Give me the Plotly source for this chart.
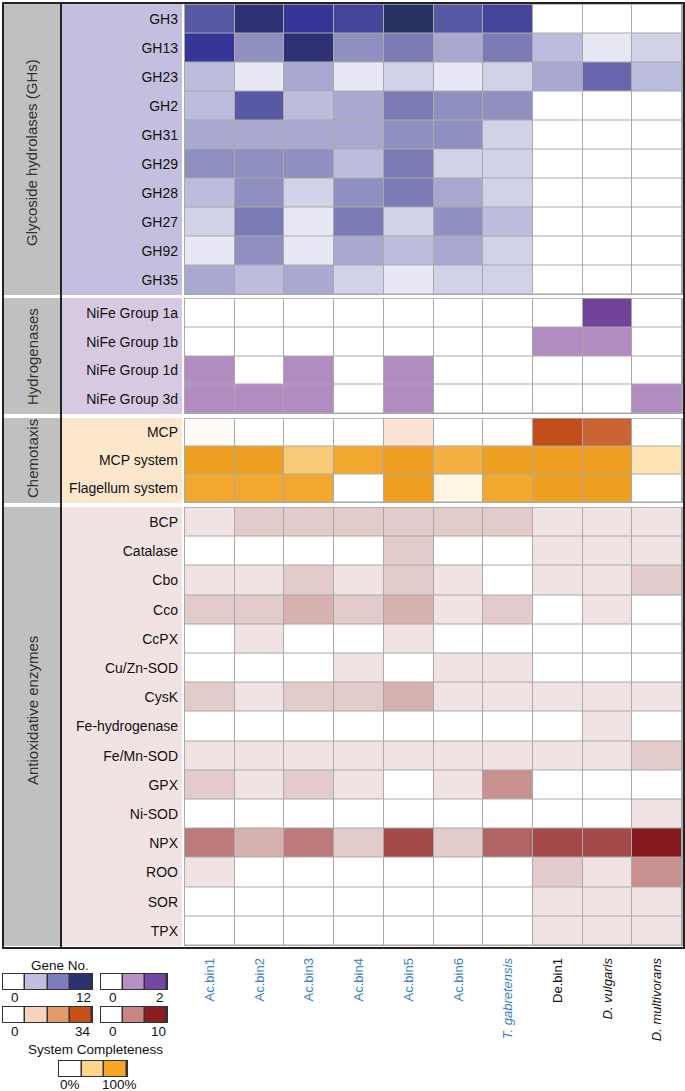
import plotly.graph_objects as go

W, H = 685, 1091
FONT = "Liberation Sans, Arial, sans-serif"

# ---------------- data ----------------
columns = ["Ac.bin1", "Ac.bin2", "Ac.bin3", "Ac.bin4", "Ac.bin5", "Ac.bin6",
           "T. gabretensis", "De.bin1", "D. vulgaris", "D. multivorans"]
column_is_ac = [True, True, True, True, True, True, True, False, False, False]
column_italic = [False, False, False, False, False, False, True, False, True, True]

gh_rows = ["GH3", "GH13", "GH23", "GH2", "GH31", "GH29", "GH28", "GH27", "GH92", "GH35"]
gh_values = [
    [8, 11, 10, 9, 12, 8, 9, 0, 0, 0],
    [10, 5, 11, 5, 6, 4, 6, 3, 1, 2],
    [3, 1, 4, 1, 2, 1, 2, 4, 7, 3],
    [3, 8, 3, 4, 6, 5, 5, 0, 0, 0],
    [4, 4, 4, 4, 5, 5, 2, 0, 0, 0],
    [5, 5, 5, 3, 6, 2, 2, 0, 0, 0],
    [3, 5, 2, 5, 6, 4, 2, 0, 0, 0],
    [2, 6, 1, 6, 2, 5, 3, 0, 0, 0],
    [1, 5, 1, 4, 3, 4, 2, 0, 0, 0],
    [4, 3, 4, 2, 1, 2, 2, 0, 0, 0],
]

hyd_rows = ["NiFe Group 1a", "NiFe Group 1b", "NiFe Group 1d", "NiFe Group 3d"]
hyd_values = [
    [0, 0, 0, 0, 0, 0, 0, 0, 2, 0],
    [0, 0, 0, 0, 0, 0, 0, 1, 1, 0],
    [1, 0, 1, 0, 1, 0, 0, 0, 0, 0],
    [1, 1, 1, 0, 1, 0, 0, 0, 0, 1],
]

mcp_rows = ["MCP"]
mcp_values = [[1, 0, 0, 0, 7, 0, 0, 34, 31, 0]]

system_rows = ["MCP system", "Flagellum system"]
system_values = [
    [100, 100, 60, 93, 100, 85, 100, 100, 100, 33],
    [93, 93, 93, 0, 100, 12, 93, 100, 100, 0],
]

anti_rows = ["BCP", "Catalase", "Cbo", "Cco", "CcPX", "Cu/Zn-SOD", "CysK", "Fe-hydrogenase",
             "Fe/Mn-SOD", "GPX", "Ni-SOD", "NPX", "ROO", "SOR", "TPX"]
anti_values = [
    [1, 2, 2, 2, 2, 2, 2, 1, 1, 1],
    [0, 0, 0, 0, 2, 0, 0, 1, 1, 1],
    [1, 1, 2, 1, 2, 1, 0, 1, 1, 2],
    [2, 2, 3, 2, 3, 1, 2, 0, 1, 0],
    [0, 1, 0, 0, 1, 0, 0, 0, 0, 0],
    [0, 0, 0, 1, 0, 1, 1, 0, 0, 0],
    [2, 1, 2, 2, 3, 1, 1, 1, 1, 1],
    [0, 0, 0, 0, 0, 0, 0, 0, 1, 0],
    [1, 1, 1, 1, 1, 1, 1, 1, 1, 2],
    [2, 1, 2, 1, 0, 1, 4, 0, 0, 0],
    [0, 0, 0, 0, 0, 0, 0, 0, 0, 1],
    [5, 3, 5, 2, 7, 2, 6, 7, 7, 10],
    [1, 0, 0, 0, 0, 0, 0, 2, 1, 4],
    [0, 0, 0, 0, 0, 0, 0, 1, 1, 1],
    [0, 0, 0, 0, 0, 0, 0, 1, 1, 1],
]

group_names = ["Glycoside hydrolases (GHs)", "Hydrogenases", "Chemotaxis", "Antioxidative enzymes"]

legend_gh_ticks = ["0", "12"]
legend_hyd_ticks = ["0", "2"]
legend_mcp_ticks = ["0", "34"]
legend_anti_ticks = ["0", "10"]
legend_sys_ticks = ["0%", "100%"]

# ---------------- colour scales ----------------
blue_levels = ["#ffffff", "#e8e8f4", "#d1d1e7", "#bcbcdc", "#a8a8d0", "#9090c0", "#7b7bb5",
               "#6866ac", "#5858a5", "#47459b", "#383598", "#2e3274", "#283060"]
blue_scale = [[i / 12, c] for i, c in enumerate(blue_levels)]
purple_scale = [[0, "#ffffff"], [0.5, "#b18cc0"], [1, "#704399"]]
orange_scale = [[0, "#ffffff"], [0.33, "#f8d2bc"], [0.67, "#e4996d"], [1, "#c24e1c"]]
amber_scale = [[0, "#ffffff"], [0.5, "#fdd68c"], [1, "#f0a020"]]
red_scale = [[0, "#ffffff"], [0.1, "#f1e3e3"], [0.2, "#e3cacb"], [0.3, "#d7b0b0"],
             [0.4, "#c99090"], [0.5, "#bc7a7a"], [0.6, "#b06464"], [0.7, "#a44a4a"],
             [1, "#841a1e"]]


def px(p):
    return p / W


def py(p):
    return 1 - p / H


blocks = [(4, 295), (298, 414), (418, 503), (507, 946)]
block_bg = ["#c4bfdf", "#d8c9e3", "#fde7cc", "#f2e3e3"]
HX0, HX1 = 185, 682

GRID = "#a9a9a9"

fig = go.Figure()

# ---------------- main heatmaps ----------------
common = dict(x=columns, xgap=1, ygap=1, showscale=False, hoverinfo="x+y+z")
fig.add_trace(go.Heatmap(z=gh_values, y=gh_rows, colorscale=blue_scale, zmin=0, zmax=12,
                         xaxis="x", yaxis="y", **common))
fig.add_trace(go.Heatmap(z=hyd_values, y=hyd_rows, colorscale=purple_scale, zmin=0, zmax=2,
                         xaxis="x", yaxis="y2", **common))
fig.add_trace(go.Heatmap(z=mcp_values, y=mcp_rows, colorscale=orange_scale, zmin=0, zmax=34,
                         xaxis="x", yaxis="y3", **common))
fig.add_trace(go.Heatmap(z=system_values, y=system_rows, colorscale=amber_scale, zmin=0, zmax=100,
                         xaxis="x", yaxis="y3", **common))
fig.add_trace(go.Heatmap(z=anti_values, y=anti_rows, colorscale=red_scale, zmin=0, zmax=10,
                         xaxis="x", yaxis="y4", **common))

ticktext = []
for name, ac, it in zip(columns, column_is_ac, column_italic):
    t = f"<i>{name}</i>" if it else name
    col = "#3a80cc" if ac else "#111111"
    ticktext.append(f'<span style="color:{col}">{t}</span>')

fig.update_layout(
    xaxis=dict(domain=[px(HX0), px(HX1)], anchor="y4", tickvals=columns, ticktext=ticktext,
               tickangle=-90, ticks="", showgrid=False, zeroline=False, showline=False,
               tickfont=dict(family=FONT, size=13), ticklabelstandoff=9, fixedrange=True),
)
row_sets = [gh_rows, hyd_rows, mcp_rows + system_rows, anti_rows]
for i, (b0, b1) in enumerate(blocks):
    name = "yaxis" if i == 0 else f"yaxis{i + 1}"
    fig.update_layout({name: dict(domain=[py(b1 - 0.5), py(b0 + 0.5)], anchor="x",
                                  categoryorder="array", categoryarray=row_sets[i],
                                  autorange="reversed", ticks="", showgrid=False,
                                  zeroline=False, showline=False,
                                  tickfont=dict(family=FONT, size=14, color="#111"),
                                  ticklabelstandoff=6, fixedrange=True)})

shapes = []
for (b0, b1), bg in zip(blocks, block_bg):
    shapes.append(dict(type="rect", xref="paper", yref="paper", x0=px(4), x1=px(60),
                       y0=py(b1), y1=py(b0), fillcolor="#c0c0c0", line_width=0, layer="below"))
    shapes.append(dict(type="rect", xref="paper", yref="paper", x0=px(62), x1=px(182),
                       y0=py(b1), y1=py(b0), fillcolor=bg, line_width=0, layer="below"))
    shapes.append(dict(type="rect", xref="paper", yref="paper", x0=px(HX0 - 1), x1=px(HX1 + 1),
                       y0=py(b1), y1=py(b0), fillcolor=GRID, line_width=0, layer="below"))
shapes.append(dict(type="line", xref="paper", yref="paper", x0=px(61), x1=px(61),
                   y0=py(948), y1=py(3), line=dict(color="#222", width=2), layer="above"))
shapes.append(dict(type="rect", xref="paper", yref="paper", x0=px(3), x1=px(684),
                   y0=py(948), y1=py(3), line=dict(color="#222", width=2), layer="above"))

annotations = []
group_centers = [153, 356, 458, 711]
for g, yc in zip(group_names, group_centers):
    annotations.append(dict(text=g, x=px(32), y=py(yc), xref="paper", yref="paper",
                            xanchor="center", yanchor="middle",
                            textangle=-90, showarrow=False,
                            font=dict(family=FONT, size=15, color="#333")))

# ---------------- legend swatches ----------------
legend_defs = [
    (["#ffffff", "#bebede", "#7e7ebe", "#2a3070"], 3, 92, 974, 989, legend_gh_ticks, (15, 83), 997),
    (["#ffffff", "#b890c8", "#7448a0"], 101, 167, 974, 989, legend_hyd_ticks, (113, 160), 997),
    (["#ffffff", "#f8d2bc", "#e49a6c", "#c85018"], 3, 92, 1007, 1022, legend_mcp_ticks, (15, 83), 1031),
    (["#ffffff", "#c98484", "#8b1c20"], 101, 167, 1007, 1022, legend_anti_ticks, (113, 158), 1031),
    (["#ffffff", "#fdd68c", "#f5a623"], 59, 127, 1061, 1076, legend_sys_ticks, (70, 119), 1084),
]
for k, (cols, x0, x1, y0, y1, ticks, tx, ty) in enumerate(legend_defs):
    ax = k + 2
    n = len(cols)
    scale = [[i / (n - 1), c] for i, c in enumerate(cols)]
    fig.add_trace(go.Heatmap(z=[list(range(n))], colorscale=scale, zmin=0, zmax=n - 1,
                             xgap=1.5, showscale=False, hoverinfo="skip",
                             xaxis=f"x{ax}", yaxis=f"y{ax + 3}"))
    fig.update_layout({
        f"xaxis{ax}": dict(domain=[px(x0), px(x1)], anchor=f"y{ax + 3}", visible=False,
                           range=[-0.5, n - 0.5], fixedrange=True),
        f"yaxis{ax + 3}": dict(domain=[py(y1), py(y0)], anchor=f"x{ax}", visible=False,
                               range=[-0.5, 0.5], fixedrange=True),
    })
    shapes.append(dict(type="rect", xref="paper", yref="paper", x0=px(x0 - 1), x1=px(x1 + 1),
                       y0=py(y1 + 1), y1=py(y0 - 1), fillcolor="#333", line_width=0,
                       layer="below"))
    for t, xx in zip(ticks, tx):
        annotations.append(dict(text=t, x=px(xx), y=py(ty), xref="paper", yref="paper",
                                xanchor="center", yanchor="middle",
                                showarrow=False, font=dict(family=FONT, size=13.5, color="#111")))

annotations.append(dict(text="Gene No.", x=px(60), y=py(965), xref="paper", yref="paper",
                        xanchor="center", yanchor="middle",
                        showarrow=False, font=dict(family=FONT, size=13.5, color="#111")))
annotations.append(dict(text="System Completeness", x=px(95), y=py(1049), xref="paper",
                        yref="paper", xanchor="center", yanchor="middle", showarrow=False,
                        font=dict(family=FONT, size=13.5, color="#111")))

fig.update_layout(
    width=W, height=H, margin=dict(l=0, r=0, t=0, b=0),
    paper_bgcolor="white", plot_bgcolor="rgba(0,0,0,0)",
    shapes=shapes, annotations=annotations, showlegend=False,
    font=dict(family=FONT),
)

fig.write_html("out.html", config={"displayModeBar": False},
               post_script="document.body.style.margin='0px';document.body.style.overflow='hidden';")
